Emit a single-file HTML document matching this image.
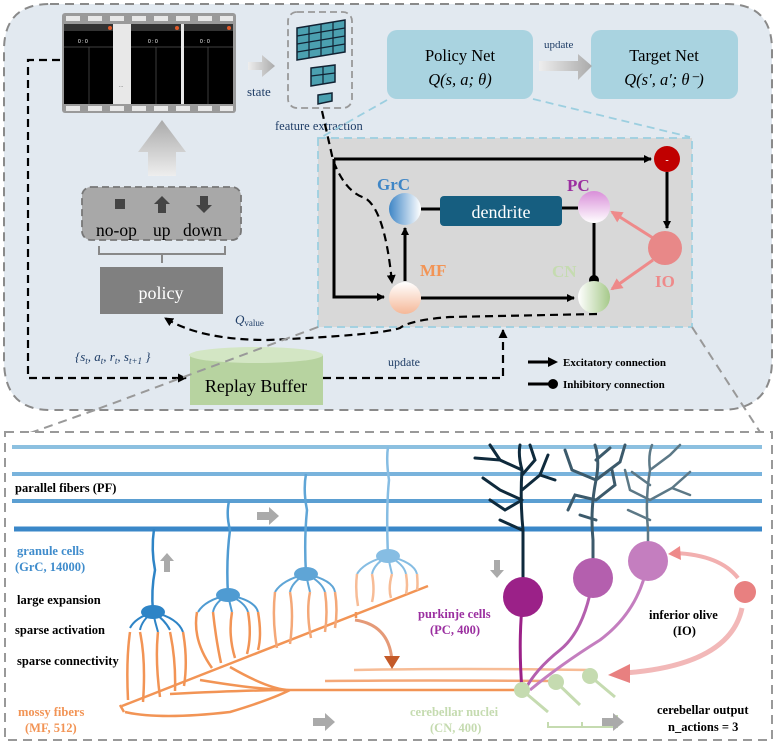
<!DOCTYPE html>
<html><head><meta charset="utf-8"><style>
html,body{margin:0;padding:0;background:#fff;}
svg{display:block;font-family:"Liberation Serif",serif;}
</style></head><body>
<svg width="777" height="744" viewBox="0 0 777 744" xmlns="http://www.w3.org/2000/svg">
<defs>
<marker id="ah" markerWidth="8" markerHeight="8" refX="7" refY="4" orient="auto" markerUnits="userSpaceOnUse"><path d="M0,0 L8,4 L0,8z" fill="#000"/></marker>
<marker id="ahp" markerWidth="12" markerHeight="12" refX="10" refY="6" orient="auto" markerUnits="userSpaceOnUse"><path d="M0,0 L12,6 L0,12z" fill="#ee8a8a"/></marker>
<marker id="ahd" markerWidth="9" markerHeight="9" refX="8" refY="4.5" orient="auto" markerUnits="userSpaceOnUse"><path d="M0,0 L9,4.5 L0,9z" fill="#000"/></marker>
<linearGradient id="ga" x1="0" x2="1"><stop offset="0" stop-color="#eee"/><stop offset="1" stop-color="#aaa"/></linearGradient>
<linearGradient id="gu" x1="0" y1="1" x2="0" y2="0"><stop offset="0" stop-color="#eee"/><stop offset="1" stop-color="#aaa"/></linearGradient>
<linearGradient id="grc" x1="0" x2="1"><stop offset="0" stop-color="#3f86c6"/><stop offset="1" stop-color="#fff"/></linearGradient>
<linearGradient id="pc" x1="0" y1="0" x2="0" y2="1"><stop offset="0" stop-color="#d98fd9"/><stop offset="1" stop-color="#fff"/></linearGradient>
<linearGradient id="mf" x1="0" y1="0" x2="0" y2="1"><stop offset="0" stop-color="#fff"/><stop offset="1" stop-color="#f5b898"/></linearGradient>
<linearGradient id="cn" x1="0" x2="1"><stop offset="0" stop-color="#fff"/><stop offset="1" stop-color="#a6c98a"/></linearGradient>
</defs>

<!-- top panel -->
<path d="M50,4 H727 Q772,4 772,50 V360 Q772,410 720,410 H50 Q4,410 4,360 V50 Q4,4 50,4z" fill="#e2e9f0" stroke="#8a8a8a" stroke-width="2" stroke-dasharray="9,6"/>

<!-- game strip -->
<rect x="62" y="13" width="174" height="100" rx="3" fill="#9a9a9a"/>
<g fill="#e8e8e8">
<rect x="66" y="16" width="14" height="5"/><rect x="88" y="16" width="14" height="5"/><rect x="110" y="16" width="14" height="5"/><rect x="132" y="16" width="14" height="5"/><rect x="154" y="16" width="14" height="5"/><rect x="176" y="16" width="14" height="5"/><rect x="198" y="16" width="14" height="5"/><rect x="220" y="16" width="13" height="5"/>
<rect x="66" y="106" width="14" height="5"/><rect x="88" y="106" width="14" height="5"/><rect x="110" y="106" width="14" height="5"/><rect x="132" y="106" width="14" height="5"/><rect x="154" y="106" width="14" height="5"/><rect x="176" y="106" width="14" height="5"/><rect x="198" y="106" width="14" height="5"/><rect x="220" y="106" width="13" height="5"/>
</g>
<rect x="64" y="24" width="49" height="80" fill="#000"/>
<rect x="113" y="24" width="18" height="80" fill="#e8e8e8"/>
<rect x="131" y="24" width="50" height="80" fill="#000"/>
<rect x="181" y="24" width="3" height="80" fill="#e8e8e8"/>
<rect x="184" y="24" width="49" height="80" fill="#000"/>
<g fill="#333"><rect x="64" y="24" width="49" height="7"/><rect x="131" y="24" width="50" height="7"/><rect x="184" y="24" width="49" height="7"/></g>
<g fill="#e05a2a"><circle cx="110" cy="28" r="2"/><circle cx="177" cy="28" r="2"/><circle cx="229" cy="28" r="2"/></g>
<g fill="#fff" font-size="5" font-family="Liberation Sans,sans-serif"><text x="78" y="43">0 : 0</text><text x="148" y="43">0 : 0</text><text x="200" y="43">0 : 0</text><text x="119" y="87" fill="#444">...</text></g>
<g stroke="#555" stroke-width="0.7"><line x1="64" y1="47" x2="113" y2="47"/><line x1="131" y1="47" x2="181" y2="47"/><line x1="184" y1="47" x2="233" y2="47"/><line x1="89" y1="47" x2="89" y2="104"/><line x1="156" y1="47" x2="156" y2="104"/><line x1="208" y1="47" x2="208" y2="104"/></g>

<!-- state arrow -->
<path d="M248,62 H262 V55 L275,66 L262,77 V70 H248z" fill="url(#ga)"/>
<text x="247" y="96" font-size="13" fill="#1f3d66">state</text>

<!-- feature extraction -->
<rect x="288" y="12" width="64" height="96" rx="9" fill="none" stroke="#999" stroke-width="1.8" stroke-dasharray="7,4"/>
<g fill="#4ba0b0" stroke="#123" stroke-width="1.5">
<path d="M297,28 L345,20 L345,52 L297,60z"/>
<path d="M311,68 L335,65 L335,82 L311,86z"/>
<path d="M318,95 L332,93 L332,101 L318,104z"/>
</g>
<g stroke="#123" stroke-width="1.2"><line x1="309" y1="26" x2="309" y2="58"/><line x1="321" y1="24" x2="321" y2="56"/><line x1="333" y1="22" x2="333" y2="54"/><line x1="297" y1="36" x2="345" y2="28"/><line x1="297" y1="44" x2="345" y2="36"/><line x1="297" y1="52" x2="345" y2="44"/><line x1="323" y1="66" x2="323" y2="84"/><line x1="311" y1="76" x2="335" y2="73"/></g>
<text x="275" y="130" font-size="12.5" fill="#1f3d66">feature extraction</text>

<!-- policy / target -->
<rect x="387" y="30" width="146" height="69" rx="10" fill="#a9d3e0"/>
<rect x="591" y="30" width="147" height="69" rx="10" fill="#a9d3e0"/>
<text x="460" y="61" font-size="16.5" text-anchor="middle">Policy Net</text>
<text x="460" y="85" font-size="16.5" text-anchor="middle" font-style="italic">Q(s, a; θ)</text>
<text x="664" y="61" font-size="16.5" text-anchor="middle">Target Net</text>
<text x="664" y="85" font-size="16.5" text-anchor="middle" font-style="italic">Q(s′, a′; θ⁻)</text>
<path d="M539,61 H578 V54 L592,66 L578,80 V71 H539z" fill="url(#ga)"/>
<text x="544" y="48" font-size="11" fill="#1f3d66">update</text>

<!-- blue dashed zoom lines -->
<g stroke="#9ccfe0" stroke-width="1.8" stroke-dasharray="8,5" fill="none">
<line x1="387" y1="100" x2="320" y2="138"/>
<line x1="533" y1="99" x2="690" y2="137"/>
</g>

<!-- up arrow -->
<path d="M162,120 L186,152 H176 V176 H148 V152 H138z" fill="url(#gu)"/>

<!-- action box -->
<rect x="82" y="187" width="159" height="53" rx="9" fill="#a8a8a8" stroke="#777" stroke-width="1.8" stroke-dasharray="7,4"/>
<rect x="115" y="199" width="10" height="10" fill="#444"/>
<path d="M162,196 L170,204 H166 V213 H158 V204 H154z" fill="#444"/>
<path d="M204,213 L212,205 H208 V196 H200 V205 H196z" fill="#444"/>
<text x="96" y="236" font-size="17.5">no-op</text>
<text x="153" y="236" font-size="17.5">up</text>
<text x="183" y="236" font-size="17.5">down</text>
<path d="M99,246 V254 H225 V246 M162,254 V263" fill="none" stroke="#888" stroke-width="2"/>
<rect x="100" y="267" width="123" height="47" fill="#808080"/>
<text x="161" y="299" font-size="18" fill="#fff" text-anchor="middle">policy</text>
<text x="235" y="324" font-size="13" fill="#1f3d66" font-style="italic">Q<tspan font-size="9" font-style="normal" dy="2">value</tspan></text>

<!-- inner box -->
<rect x="318" y="138" width="374" height="189" fill="#d8d8d8" stroke="#9ccfe0" stroke-width="1.8" stroke-dasharray="8,5"/>
<g stroke="#000" stroke-width="3" fill="none">
<path d="M334,159 V297 H384" marker-end="url(#ah)"/>
<path d="M334,159 H651" marker-end="url(#ah)"/>
<path d="M667,172 V228" marker-end="url(#ah)"/>
<path d="M405,281 V228" marker-end="url(#ah)"/>
<path d="M421,298 H574" marker-end="url(#ah)"/>
<path d="M421,209 H440 M562,208 H578"/>
<path d="M594,223 V278"/>
</g>
<circle cx="594" cy="280" r="5" fill="#000"/>
<g stroke="#ee8a8a" stroke-width="3" fill="none">
<path d="M653,238 L612,212" marker-end="url(#ahp)"/>
<path d="M653,260 L612,289" marker-end="url(#ahp)"/>
</g>
<circle cx="667" cy="159" r="13" fill="#c00000"/>
<text x="667" y="163" font-size="10" fill="#fff" text-anchor="middle">-</text>
<circle cx="405" cy="209" r="16" fill="url(#grc)"/>
<circle cx="594" cy="207" r="16" fill="url(#pc)"/>
<circle cx="405" cy="298" r="16" fill="url(#mf)"/>
<circle cx="594" cy="297" r="16" fill="url(#cn)"/>
<circle cx="665" cy="248" r="17" fill="#e88888"/>
<rect x="440" y="196" width="122" height="30" rx="4" fill="#165e80"/>
<text x="501" y="218" font-size="18" fill="#fff" text-anchor="middle">dendrite</text>
<g font-weight="bold" font-size="17">
<text x="377" y="190" fill="#3f86c6">GrC</text>
<text x="567" y="191" fill="#9b2fa0">PC</text>
<text x="420" y="276" fill="#f29455">MF</text>
<text x="552" y="277" fill="#c5dbb0">CN</text>
<text x="655" y="287" fill="#ee8a8a">IO</text>
</g>

<!-- dashed loops -->
<g stroke="#000" stroke-width="2.2" stroke-dasharray="8,5" fill="none">
<path d="M60,60 H28 V378 H186" marker-end="url(#ahd)"/>
<path d="M323,378 H503 V330" marker-end="url(#ahd)"/>
<path d="M322,111 L333,160 Q345,192 365,198 Q385,210 392,283" marker-end="url(#ahd)"/>
<path d="M597,314 L450,317 Q410,320 400,328 Q380,335 268,340 Q200,340 165,318" marker-end="url(#ahd)"/>
</g>
<text x="75" y="361" font-size="13" fill="#1f3d66" font-style="italic">{s<tspan font-size="9" dy="3">t</tspan><tspan dy="-3">, a</tspan><tspan font-size="9" dy="3">t</tspan><tspan dy="-3">, r</tspan><tspan font-size="9" dy="3">t</tspan><tspan dy="-3">, s</tspan><tspan font-size="9" dy="3">t+1</tspan><tspan dy="-3"> }</tspan></text>
<text x="388" y="366" font-size="12" fill="#1f3d66">update</text>

<!-- legend -->
<line x1="528" y1="362" x2="550" y2="362" stroke="#000" stroke-width="3"/>
<path d="M548,357 L558,362 L548,367z" fill="#000"/>
<text x="563" y="366" font-size="11" font-weight="bold">Excitatory connection</text>
<line x1="528" y1="384" x2="550" y2="384" stroke="#000" stroke-width="3"/>
<circle cx="553" cy="384" r="5" fill="#000"/>
<text x="563" y="388" font-size="11" font-weight="bold">Inhibitory connection</text>

<!-- replay buffer -->
<path d="M190,355 V405 H323 V355" fill="#b7d3a0"/>
<ellipse cx="256" cy="355" rx="67" ry="8" fill="#d3e6c4"/>
<text x="256" y="392" font-size="18" text-anchor="middle">Replay  Buffer</text>

<!-- gray zoom lines -->
<g stroke="#999" stroke-width="2" stroke-dasharray="9,6" fill="none">
<line x1="318" y1="327" x2="95" y2="410"/>
<line x1="95" y1="410" x2="30" y2="433"/>
<line x1="692" y1="327" x2="760" y2="432"/>
</g>

<!-- bottom panel -->
<rect x="5" y="432" width="767" height="308" fill="#fff" stroke="#999" stroke-width="2" stroke-dasharray="9,6"/>
<g stroke-width="4">
<line x1="12" y1="447" x2="762" y2="447" stroke="#8cc0e0"/>
<line x1="12" y1="474" x2="762" y2="474" stroke="#79b3dc"/>
<line x1="12" y1="501" x2="762" y2="501" stroke="#5b9fd2"/>
<line x1="14" y1="529" x2="762" y2="529" stroke="#3a87c8" stroke-width="5"/>
</g>

<!-- granule axons -->
<g fill="none" stroke-width="2.5">
<path d="M153,612 Q151,590 155,570 Q151,550 154,529" stroke="#2e84c6"/>
<path d="M228,595 Q226,560 230,530 Q226,515 229,501" stroke="#4f9bd2"/>
<path d="M306,574 Q304,540 307,510 Q303,490 306,474" stroke="#5fa5d6"/>
<path d="M388,556 Q386,510 389,480 Q386,460 388,447" stroke="#86bde3"/>
</g>
<g fill="none" stroke-width="2">
<path d="M153,612 Q135,618 130,628 M153,612 Q142,620 140,630 M153,612 Q155,622 158,632 M153,612 Q165,620 170,630 M153,612 Q178,618 183,632" stroke="#2e84c6"/>
<path d="M228,595 Q205,600 198,612 M228,595 Q215,602 213,612 M228,595 Q230,604 232,612 M228,595 Q245,602 248,612 M228,595 Q255,600 258,612" stroke="#4f9bd2"/>
<path d="M306,574 Q282,580 275,592 M306,574 Q292,582 290,592 M306,574 Q308,584 310,592 M306,574 Q322,582 325,592 M306,574 Q333,580 335,592" stroke="#5fa5d6"/>
<path d="M388,556 Q364,562 357,574 M388,556 Q374,564 372,574 M388,556 Q390,566 392,574 M388,556 Q404,564 406,574 M388,556 Q414,562 417,574" stroke="#86bde3"/>
</g>
<ellipse cx="153" cy="612" rx="12" ry="7" fill="#2e84c6"/>
<ellipse cx="228" cy="595" rx="12" ry="7" fill="#4f9bd2"/>
<ellipse cx="306" cy="574" rx="12" ry="7" fill="#5fa5d6"/>
<ellipse cx="388" cy="556" rx="12" ry="7" fill="#86bde3"/>

<!-- mossy fibers -->
<g fill="none" stroke="#f29455" stroke-width="2.5">
<line x1="122" y1="706" x2="428" y2="586"/>
<path d="M130,632 Q126,660 128,700 M140,632 Q146,660 143,702 M158,632 Q155,660 160,697 M170,632 Q176,660 175,691 M183,632 Q188,660 184,686"/>
<path d="M197,612 Q192,640 212,668 M213,612 Q216,640 221,663 M232,612 Q228,635 235,658 M248,612 Q252,635 247,654 M258,612 Q262,635 258,650"/>
<path d="M275,592 Q272,620 277,648 M290,592 Q294,615 290,644 M310,592 Q306,612 311,638 M325,592 Q328,612 325,632 M335,592 Q338,610 335,628" stroke="#f4a878"/>
<path d="M357,574 Q355,590 358,606 M372,574 Q375,590 372,602 M392,574 Q388,588 391,598 M406,574 Q408,586 406,594 M417,574 Q418,585 417,590" stroke="#f7bc96"/>
<path d="M125,712 Q160,720 230,712 Q270,700 290,690 M170,694 Q250,690 290,690 M200,680 Q260,690 290,690 M230,667 Q270,690 290,690 M290,690 H520"/>
<path d="M325,681 Q420,680 555,681" stroke="#f4a878"/>
<path d="M354,670 Q460,668 590,670" stroke="#f7bc96"/>
<path d="M120,705 L124,712 M356,612 V618"/>
</g>
<path d="M355,620 Q390,625 392,662" fill="none" stroke="#e59a78" stroke-width="3"/>
<path d="M384,656 L400,656 L392,669z" fill="#c45a28"/>

<!-- purkinje dendrites -->
<g fill="none" stroke-linecap="round">
<path d="M523,597 V530 Q520,500 522,470 Q518,455 520,445 M522,470 L500,460 L490,445 M500,460 L475,458 M522,500 L500,490 L483,478 M522,500 L505,510 L490,500 M522,490 L540,475 L548,455 M522,475 L535,460 L530,445 M540,475 L555,480 M522,530 L500,520" stroke="#0f2a3c" stroke-width="3"/>
<path d="M593,578 V540 Q590,510 596,480 Q600,460 595,445 M596,480 L572,470 L565,450 M596,500 L575,495 L568,510 M596,480 L620,462 L625,445 M596,500 L615,485 L612,470 M596,520 L580,515 M596,460 L610,448" stroke="#3c5a6b" stroke-width="3"/>
<path d="M648,561 V530 Q645,500 650,470 Q648,455 652,445 M650,500 L630,490 L625,470 M650,500 L672,488 L690,472 M650,470 L670,455 L680,445 M650,485 L632,472 M672,488 L690,495 M650,520 L628,510" stroke="#5c7886" stroke-width="2.5"/>
</g>
<g fill="none" stroke-width="3">
<path d="M523,597 Q518,640 522,690" stroke="#9b2188"/>
<path d="M593,578 Q585,630 560,650 Q535,670 525,690" stroke="#b45fae"/>
<path d="M648,561 Q640,610 600,640 Q560,665 530,690" stroke="#c47ebf"/>
</g>
<circle cx="523" cy="597" r="20" fill="#9b2188"/>
<circle cx="593" cy="578" r="20" fill="#b45fae"/>
<circle cx="648" cy="561" r="20" fill="#c47ebf"/>

<!-- CN -->
<g stroke="#c5dbb0" stroke-width="3" fill="none">
<path d="M522,690 L548,712 M556,682 L580,705 M590,676 L615,697"/>
<path d="M548,722 V727 H617 V715 M582,727 V722" stroke-width="2"/>
</g>
<circle cx="522" cy="690" r="8" fill="#c5dbb0"/>
<circle cx="556" cy="682" r="8" fill="#c5dbb0"/>
<circle cx="590" cy="676" r="8" fill="#c5dbb0"/>

<!-- IO -->
<circle cx="745" cy="592" r="11" fill="#e88080"/>
<path d="M738,578 Q720,555 675,553" fill="none" stroke="#f2b0b0" stroke-width="4"/>
<path d="M680,546 L668,554 L681,560z" fill="#ee8a8a"/>
<path d="M742,608 Q730,665 625,673" fill="none" stroke="#f2b8b8" stroke-width="5"/>
<path d="M630,664 L608,675 L630,683z" fill="#e88080"/>

<!-- gray arrows -->
<g fill="#aaa">
<path d="M257,512 H269 V507 L279,516 L269,525 V520 H257z"/>
<path d="M167,553 L174,561 H170 V572 H164 V561 H160z"/>
<path d="M497,578 L504,570 H500 V560 H494 V570 H490z"/>
<path d="M313,718 H325 V713 L335,722 L325,731 V726 H313z"/>
<path d="M602,718 H613 V713 L624,722 L613,731 V726 H602z"/>
</g>

<!-- labels -->
<g font-size="12.5" font-weight="bold">
<text x="15" y="492">parallel fibers (PF)</text>
<text x="17" y="555" fill="#3f8ccc">granule cells</text>
<text x="15" y="571" fill="#3f8ccc">(GrC, 14000)</text>
<text x="17" y="604">large expansion</text>
<text x="15" y="634">sparse activation</text>
<text x="17" y="665">sparse connectivity</text>
<text x="18" y="716" fill="#f29455">mossy fibers</text>
<text x="25" y="732" fill="#f29455">(MF, 512)</text>
<text x="418" y="618" fill="#9b2fa0">purkinje cells</text>
<text x="430" y="634" fill="#9b2fa0">(PC, 400)</text>
<text x="649" y="619">inferior olive</text>
<text x="673" y="635">(IO)</text>
<text x="410" y="716" fill="#c5dbb0">cerebellar nuclei</text>
<text x="430" y="732" fill="#c5dbb0">(CN, 400)</text>
<text x="657" y="714">cerebellar output</text>
<text x="668" y="731">n_actions = 3</text>
</g>
</svg>
</body></html>
